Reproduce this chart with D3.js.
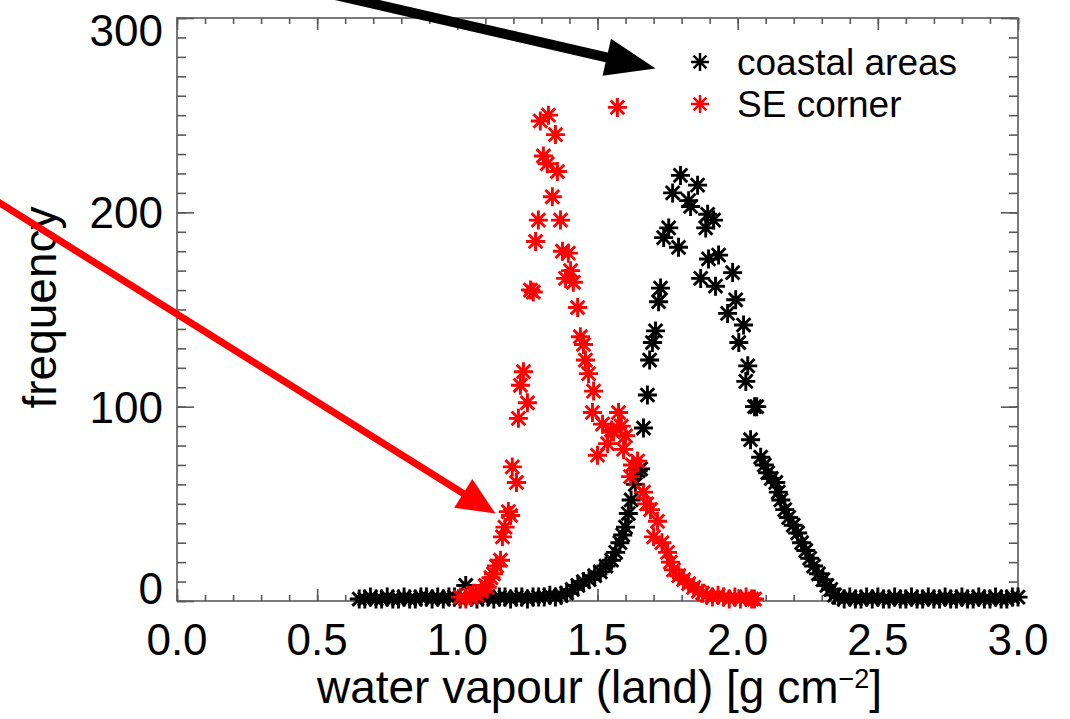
<!DOCTYPE html>
<html lang="en">
<head>
  <meta charset="UTF-8">
  <title>water vapour frequency</title>
  <style>
    body { margin: 0; background: #fff; }
    text { font-family: "Liberation Sans", Arial, sans-serif; }
  </style>
</head>
<body>
  <svg id="chart" width="1070" height="719"></svg>
  <script src="https://cdn.jsdelivr.net/npm/d3@7"></script>
  <script>
    // coastal areas (black) : water vapour value and frequency
    var coastX = [0.65,0.67,0.69,0.71,0.73,0.75,0.77,0.79,0.81,0.83,0.85,0.87,0.89,0.91,0.93,0.95,0.97,0.99,1.01,1.03,1.05,1.07,1.09,1.11,1.13,1.15,1.17,1.19,1.21,1.23,1.25,1.27,1.29,1.31,1.33,1.35,
      1.37,1.39,1.41,1.43,1.45,1.47,1.49,1.51,1.53,1.55,1.565,1.58,1.59,1.60,1.61,1.62,1.635,1.645,1.654,1.664,1.678,1.686,1.696,1.707,1.718,1.725,1.736,1.754,1.768,1.789,1.796,1.825,1.832,1.857,1.868,1.886,1.893,1.896,1.914,1.921,1.932,1.964,1.982,1.993,2.004,2.021,2.029,2.036,2.046,2.06,2.068,2.082,2.095,2.107,2.12,2.136,2.145,2.154,2.168,2.182,2.198,2.214,2.228,2.243,2.257,2.271,2.288,2.304,2.318,2.332,2.346,
      2.36,2.38,2.40,2.42,2.44,2.46,2.48,2.50,2.52,2.54,2.56,2.58,2.60,2.62,2.64,2.66,2.68,2.70,2.72,2.74,2.76,2.78,2.80,2.82,2.84,2.86,2.88,2.90,2.92,2.94,2.96,2.98,3.00];
    var coastF = [1,1,2,1,1,2,1,1,2,1,1,2,2,1,2,1,2,2,1,8,2,1,2,2,1,2,2,1,2,2,1,2,2,2,3,2,
      3,4,6,8,10,11,13,15,18,21,25,30,34,38,45,52,60,67,68,89,106,124,133,139,154,161,187,192,210,182,219,206,203,214,166,192,199,176,196,162,178,148,169,155,133,142,113,121,83,100,100,74,70,66,63,61,56,52,47,43,39,35,30,26,22,18,14,11,8,6,3,
      2,1,2,1,1,2,1,2,1,1,2,1,1,2,1,1,2,1,1,2,1,1,2,1,1,2,1,1,2,1,1,2,2];

    // SE corner (red)
    var seX = [1.011,1.03,1.045,1.057,1.07,1.085,1.10,1.107,1.12,1.129,1.14,1.154,1.161,1.17,1.182,1.19,1.196,1.211,1.218,1.225,1.236,1.25,1.261,1.271,1.279,1.289,1.296,1.307,1.321,1.325,1.339,1.35,1.357,1.368,1.375,1.386,1.396,1.404,1.414,1.429,1.439,1.45,1.457,1.468,1.482,1.486,1.50,1.518,1.536,1.55,1.557,1.571,1.575,1.585,1.593,1.60,1.618,1.625,1.643,1.664,1.675,1.689,1.70,1.714,1.73,1.75,1.76,1.771,1.79,1.807,1.825,1.843,1.86,1.875,1.89,1.91,1.93,1.95,1.97,1.99,2.01,2.03,2.05,2.06];
    var seF = [2,1,3,4,3,5,8,7,12,14,18,21,33,38,46,44,69,61,94,111,118,102,160,159,185,196,247,229,225,250,208,240,221,196,180,166,179,170,164,151,136,132,124,117,97,108,75,91,81,88,87,254,97,90,78,85,64,70,72,56,50,47,33,41,30,25,20,16,13,11,9,7,5,4,3,2,3,2,1,2,1,2,1,1];

    var legendNames = ['coastal areas', 'SE corner'];
    var seriesColors = ['#000000', '#ff0000'];
    var xTicks = [0, 0.5, 1.0, 1.5, 2.0, 2.5, 3.0];
    var yTicks = [0, 100, 200, 300];

    var svg = d3.select('#chart');
    var pL = 177, pR = 1018, pT = 18, pB = 601;
    var x = d3.scaleLinear().domain([0, 3]).range([pL, pR]);
    var y = d3.scaleLinear().domain([0, 300]).range([pB, pT]);
    var axisCol = '#5a5a5a';

    // asterisk marker: plus + x
    function star(r) {
      var d = r * 0.72;
      return 'M0,' + (-r) + 'V' + r + 'M' + (-r) + ',0H' + r +
        'M' + (-d) + ',' + (-d) + 'L' + d + ',' + d + 'M' + (-d) + ',' + d + 'L' + d + ',' + (-d);
    }

    // frame
    svg.append('rect').attr('x', pL).attr('y', pT)
      .attr('width', pR - pL).attr('height', pB - pT)
      .attr('fill', 'none').attr('stroke', axisCol).attr('stroke-width', 1.6);

    function tickAxis(axis, g, minor, major, len1, len2, tx) {
      var a = g.append('g').attr('transform', tx);
      a.call(axis.tickValues(minor).tickSize(len1).tickFormat(''));
      a.append('g').call(axis.tickValues(major).tickSize(len2).tickFormat(''));
      a.selectAll('.domain').remove();
      a.selectAll('line').attr('stroke', axisCol).attr('stroke-width', 1.6);
    }
    var xMinor = d3.range(0, 31).map(function(i) { return i / 10; });
    var yMinor = d3.range(0, 31).map(function(i) { return i * 10; });
    var ticks = svg.append('g');
    tickAxis(d3.axisBottom(x), ticks, xMinor, xTicks, -6, -12, 'translate(0,' + pB + ')');
    tickAxis(d3.axisTop(x), ticks, xMinor, xTicks, -6, -12, 'translate(0,' + pT + ')');
    tickAxis(d3.axisLeft(y), ticks, yMinor, yTicks, -9, -17, 'translate(' + pL + ',0)');
    tickAxis(d3.axisRight(y), ticks, yMinor, yTicks, -9, -17, 'translate(' + pR + ',0)');

    // tick labels
    svg.append('g').selectAll('text').data(xTicks).enter().append('text')
      .attr('x', function(d) { return x(d); })
      .attr('y', 655)
      .attr('text-anchor', 'middle')
      .attr('font-size', 44)
      .text(function(d) { return d3.format('.1f')(d); });

    svg.append('g').selectAll('text').data(yTicks).enter().append('text')
      .attr('x', 163)
      .attr('y', function(d) { return y(d) + 16 + (d === 0 ? -13 : d === 300 ? 12 : 0); })
      .attr('text-anchor', 'end')
      .attr('font-size', 44)
      .text(function(d) { return d; });

    // axis titles
    var xt = svg.append('text').attr('x', (pL + pR) / 2 + 2).attr('y', 703)
      .attr('text-anchor', 'middle').attr('font-size', 46);
    xt.append('tspan').text('water vapour (land) [g cm');
    xt.append('tspan').attr('dy', -15).attr('font-size', 27).text('\u22122');
    xt.append('tspan').attr('dy', 15).text(']');

    svg.append('text')
      .attr('transform', 'translate(56,' + ((pT + pB) / 2 - 2) + ') rotate(-90)')
      .attr('text-anchor', 'middle').attr('font-size', 46)
      .text('frequency');

    // points
    function drawSeries(xs, fs, col) {
      svg.append('g').selectAll('path').data(xs).enter().append('path')
        .attr('d', star(9.5))
        .attr('transform', function(d, i) { return 'translate(' + x(d) + ',' + y(fs[i]) + ')'; })
        .attr('fill', 'none').attr('stroke', col).attr('stroke-width', 2.9);
    }
    drawSeries(coastX, coastF, seriesColors[0]);
    drawSeries(seX, seF, seriesColors[1]);

    // legend
    var leg = svg.append('g');
    legendNames.forEach(function(name, i) {
      leg.append('path').attr('d', star(9))
        .attr('transform', 'translate(700,' + (62 + i * 42) + ')')
        .attr('fill', 'none').attr('stroke', seriesColors[i]).attr('stroke-width', 2.5);
      leg.append('text').attr('x', 737).attr('y', 75 + i * 42)
        .attr('font-size', 37).text(name);
    });

    // annotation arrows, ends given in data units
    var arrows = [
      { from: [0.56, 312], to: [1.707, 274], color: '#000', w: 10, len: 50, half: 19 },
      { from: [-0.668, 208], to: [1.136, 45], color: '#ff0000', w: 7, len: 38, half: 17 }
    ];
    arrows.forEach(function(a) {
      var x0 = x(a.from[0]), y0 = y(a.from[1]), x1 = x(a.to[0]), y1 = y(a.to[1]);
      var dx = x1 - x0, dy = y1 - y0, L = Math.sqrt(dx * dx + dy * dy);
      var ux = dx / L, uy = dy / L;
      var bx = x1 - ux * a.len, by = y1 - uy * a.len;
      svg.append('line').attr('x1', x0).attr('y1', y0).attr('x2', bx + ux * 2).attr('y2', by + uy * 2)
        .attr('stroke', a.color).attr('stroke-width', a.w);
      svg.append('path')
        .attr('d', 'M' + x1 + ',' + y1 + 'L' + (bx - uy * a.half) + ',' + (by + ux * a.half) +
          'L' + (bx + uy * a.half) + ',' + (by - ux * a.half) + 'Z')
        .attr('fill', a.color);
    });
  </script>
</body>
</html>
